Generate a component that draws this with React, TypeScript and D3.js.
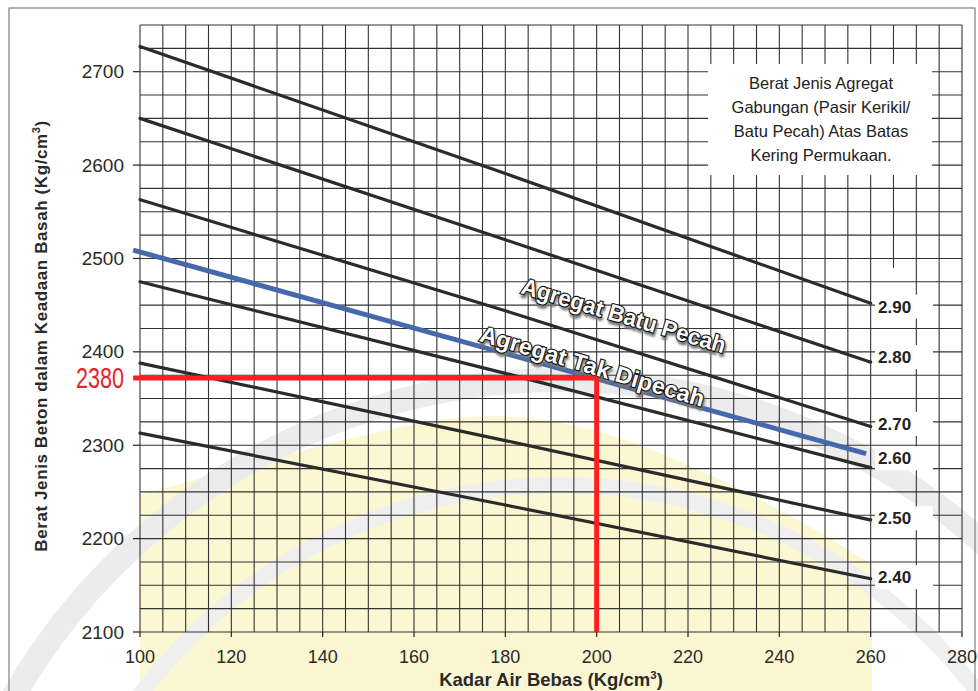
import * as d3 from 'd3';

const W = 978;
const H = 691;
const PLOT = { left: 140, right: 962, top: 25, bottom: 632 };
const FONT = '"Liberation Sans", Arial, sans-serif';

// axis ticks
const xTicks = [100, 120, 140, 160, 180, 200, 220, 240, 260, 280];
const yTicks = [2100, 2200, 2300, 2400, 2500, 2600, 2700];

// density curves: value at free water 100, 180, 260
const freeWater = [100, 180, 260];
const densities = ['2.90', '2.80', '2.70', '2.60', '2.50', '2.40'];
const wet290 = [2727, 2591, 2452];
const wet280 = [2650, 2520, 2389];
const wet270 = [2563, 2444, 2320];
const wet260 = [2475, 2377, 2276];
const wet250 = [2388, 2305, 2220];
const wet240 = [2313, 2236, 2157];

// blue reading line
const blueWater = [98.5, 259];
const blueWet = [2509, 2291];

// red reading
const readWater = [98.5, 200];
const readWet = 2372;
const readLabel = '2380';

const legendLines = [
    'Berat Jenis Agregat',
    'Gabungan (Pasir Kerikil/',
    'Batu Pecah) Atas Batas',
    'Kering Permukaan.',
];

const curveLabels = [
    { text: 'Agregat Batu Pecah', water: 183.2, wet: 2463, len: 212 },
    { text: 'Agregat Tak Dipecah', water: 174.1, wet: 2412, len: 233 },
];

// px nudges for the right hand labels
const LABEL_NUDGE = [3.4, -5, -2.7, -9.3, -1.6, -1.6];

export default function App() {
    const x = d3.scaleLinear().domain([100, 280]).range([PLOT.left, PLOT.right]);
    const y = d3.scaleLinear().domain([2100, 2750]).range([PLOT.bottom, PLOT.top]);

    const curves = [wet290, wet280, wet270, wet260, wet250, wet240];
    const line = d3
        .line<[number, number]>()
        .x((d) => x(d[0]))
        .y((d) => y(d[1]))
        .curve(d3.curveMonotoneX);

    const vGrid = d3.range(100, 280.1, 5);
    const hGrid = d3.range(2100, 2750.1, 25);

    const labelAngle =
        (Math.atan2(y(2402) - y(2463), x(228.1) - x(183.2)) * 180) / Math.PI;

    return (
        <svg
            width={W}
            height={H}
            style={{ position: 'absolute', left: 0, top: 0, background: '#fff' }}
            fontFamily={FONT}
        >
            <defs>
                <filter id="soft" x="-10%" y="-30%" width="120%" height="160%">
                    <feGaussianBlur stdDeviation={1} />
                </filter>
                <clipPath id="page">
                    <rect x={0} y={0} width={W} height={H} />
                </clipPath>
            </defs>

            {/* watermark, faint */}
            <g clipPath="url(#page)">
                <path
                    d="M140,632 L140,495 C230,470 330,440 437,420 C510,410 570,420 640,445 C730,480 820,530 872,565 L872,691 L140,691 Z"
                    fill="#fbf4c4"
                    opacity={0.75}
                />
                <circle cx={560} cy={1010} r={630} fill="none" stroke="#ececec" strokeWidth={24} />
                <circle cx={560} cy={1010} r={525} fill="none" stroke="#efefef" strokeWidth={16} />
            </g>

            {/* frame */}
            <rect x={9} y={8} width={966} height={700} fill="none" stroke="#666" strokeWidth={1} />

            {/* grid */}
            <g stroke="#1e1e1e" strokeWidth={1.1} opacity={0.9}>
                {vGrid.map((v) => (
                    <line
                        key={'v' + v}
                        x1={x(v)}
                        x2={x(v)}
                        y1={PLOT.top}
                        y2={v === 265 ? y(2490) : PLOT.bottom}
                    />
                ))}
                {hGrid.map((v) => (
                    <line key={'h' + v} x1={PLOT.left} x2={PLOT.right} y1={y(v)} y2={y(v)} />
                ))}
            </g>

            {/* legend box */}
            <rect x={708} y={64} width={224} height={111} fill="#fff" />
            <g fontSize={16.5} fill="#222" textAnchor="middle">
                {legendLines.map((t, i) => (
                    <text key={i} x={821} y={89 + i * 24}>
                        {t}
                    </text>
                ))}
            </g>

            {/* axis ticks */}
            <g stroke="#222" strokeWidth={1.2}>
                {yTicks.map((v) => (
                    <line key={v} x1={PLOT.left - 7} x2={PLOT.left} y1={y(v)} y2={y(v)} />
                ))}
                {xTicks.map((v) => (
                    <line key={v} x1={x(v)} x2={x(v)} y1={PLOT.bottom} y2={PLOT.bottom + 5} />
                ))}
            </g>
            <g fontSize={19} fill="#2a2a2a" textAnchor="end">
                {yTicks.map((v) => (
                    <text key={v} x={124} y={y(v)} dy="0.35em">
                        {v}
                    </text>
                ))}
            </g>
            <g fontSize={18} fill="#2a2a2a" textAnchor="middle">
                {xTicks.map((v) => (
                    <text key={v} x={x(v)} y={663}>
                        {v}
                    </text>
                ))}
            </g>

            {/* density curves */}
            <g fill="none" stroke="#2b2b2b" strokeWidth={3.2} strokeLinecap="round">
                {curves.map((c, i) => (
                    <path
                        key={densities[i]}
                        d={line(freeWater.map((w, j) => [w, c[j]] as [number, number])) ?? ''}
                    />
                ))}
            </g>

            {/* right labels */}
            {curves.map((c, i) => {
                const cy = y(c[c.length - 1]) + LABEL_NUDGE[i];
                return (
                    <g key={densities[i]}>
                        <rect x={875} y={cy - 12} width={58} height={24} fill="#fff" />
                        <text
                            x={878}
                            y={cy}
                            dy="0.35em"
                            fontSize={17}
                            fontWeight="bold"
                            fill="#222"
                        >
                            {densities[i]}
                        </text>
                    </g>
                );
            })}

            {/* blue reading line */}
            <path
                d={line(blueWater.map((w, j) => [w, blueWet[j]] as [number, number])) ?? ''}
                fill="none"
                stroke="#4668ad"
                strokeWidth={5}
            />

            {/* curve labels */}
            {curveLabels.map((l) => (
                <g
                    key={l.text}
                    transform={`translate(${x(l.water)},${y(l.wet)}) rotate(${labelAngle + 1})`}
                    fontSize={23}
                    fontWeight="bold"
                >
                    <text
                        x={2}
                        y={3}
                        fill="#777"
                        stroke="#777"
                        strokeWidth={2}
                        filter="url(#soft)"
                        textLength={l.len}
                        lengthAdjust="spacingAndGlyphs"
                    >
                        {l.text}
                    </text>
                    <text
                        fill="#fff"
                        stroke="#111"
                        strokeWidth={2.2}
                        paintOrder="stroke"
                        textLength={l.len}
                        lengthAdjust="spacingAndGlyphs"
                    >
                        {l.text}
                    </text>
                </g>
            ))}

            {/* red reading */}
            <g stroke="#ff1f1f" strokeWidth={5} fill="none">
                <line x1={x(readWater[0])} x2={x(readWater[1])} y1={y(readWet)} y2={y(readWet)} />
                <line x1={x(readWater[1])} x2={x(readWater[1])} y1={y(readWet)} y2={PLOT.bottom} />
            </g>
            <text
                x={124}
                y={y(readWet)}
                dy="0.35em"
                textAnchor="end"
                fontSize={29}
                fill="#e0262b"
                textLength={48}
                lengthAdjust="spacingAndGlyphs"
            >
                {readLabel}
            </text>

            {/* axis titles */}
            <text x={551} y={686} textAnchor="middle" fontSize={18.5} fontWeight="bold" fill="#2a2a2a">
                Kadar Air Bebas (Kg/cm<tspan dy={-7} fontSize={11.5}>3</tspan>
                <tspan dy={7}>)</tspan>
            </text>
            <text
                transform="translate(47,336) rotate(-90)"
                textAnchor="middle"
                fontSize={17}
                fontWeight="bold"
                fill="#2a2a2a"
                letterSpacing={0.6}
            >
                Berat Jenis Beton dalam Keadaan Basah (Kg/cm<tspan dy={-7} fontSize={11}>3</tspan>
                <tspan dy={7}>)</tspan>
            </text>
        </svg>
    );
}
